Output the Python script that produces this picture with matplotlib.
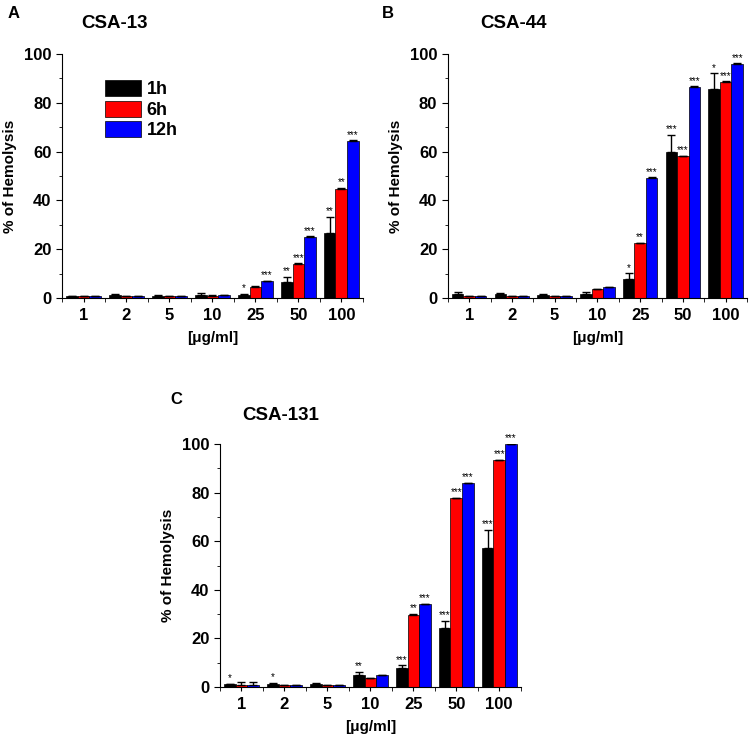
import numpy as np
import matplotlib
matplotlib.use("Agg")
import matplotlib.pyplot as plt
from matplotlib.ticker import MultipleLocator, FixedLocator

plt.rcParams['font.family'] = ['Liberation Sans', 'DejaVu Sans']
plt.rcParams['font.weight'] = 'bold'

doses = ["1", "2", "5", "10", "25", "50", "100"]
times = ["1h", "6h", "12h"]
colors = ["#000000", "#ff0000", "#0000ff"]

# CSA-13
a_1h = [0.8, 1.2, 0.8, 1.2, 1.4, 6.6, 26.8]
a_6h = [0.8, 0.8, 0.8, 0.9, 4.6, 14.1, 44.8]
a_12h = [0.8, 0.9, 0.9, 1.2, 6.9, 25.1, 64.5]
a_err_1h = [0.2, 0.6, 0.3, 0.8, 0.4, 2.0, 6.5]
a_err_6h = [0.1, 0.1, 0.1, 0.2, 0.2, 0.2, 0.3]
a_err_12h = [0.1, 0.1, 0.1, 0.2, 0.2, 0.2, 0.2]
a_stars_1h = ["", "", "", "", "*", "**", "**"]
a_stars_6h = ["", "", "", "", "", "***", "**"]
a_stars_12h = ["", "", "", "", "***", "***", "***"]

# CSA-44
b_1h = [1.5, 1.5, 1.3, 1.8, 7.9, 59.8, 85.8]
b_6h = [0.8, 0.8, 0.9, 3.6, 22.4, 58.0, 88.6]
b_12h = [0.9, 0.9, 0.9, 4.3, 49.2, 86.6, 96.0]
b_err_1h = [1.0, 0.5, 0.3, 0.6, 2.2, 7.0, 6.3]
b_err_6h = [0.1, 0.1, 0.1, 0.1, 0.2, 0.2, 0.2]
b_err_12h = [0.1, 0.1, 0.1, 0.1, 0.2, 0.2, 0.2]
b_stars_1h = ["", "", "", "", "*", "***", "*"]
b_stars_6h = ["", "", "", "", "**", "***", "***"]
b_stars_12h = ["", "", "", "", "***", "***", "***"]

# CSA-131
c_1h = [1.1, 1.3, 1.2, 5.1, 8.0, 24.3, 57.0]
c_6h = [0.8, 0.8, 0.9, 3.7, 29.8, 77.7, 93.4]
c_12h = [0.8, 0.9, 0.9, 4.8, 34.1, 83.8, 99.8]
c_err_1h = [0.3, 0.4, 0.3, 1.1, 0.9, 2.9, 7.8]
c_err_6h = [1.2, 0.1, 0.1, 0.1, 0.3, 0.2, 0.2]
c_err_12h = [1.3, 0.1, 0.1, 0.2, 0.2, 0.2, 0.2]
c_stars_1h = ["*", "*", "", "**", "***", "***", "***"]
c_stars_6h = ["", "", "", "", "**", "***", "***"]
c_stars_12h = ["", "", "", "", "***", "***", "***"]


def draw_panel(ax, series, errs, stars, legend=False):
    x = np.arange(len(doses))
    w = 0.27
    for i, (vals, err, st) in enumerate(zip(series, errs, stars)):
        pos = x + (i - 1) * w
        ax.bar(pos, vals, width=w, color=colors[i], edgecolor="black",
               linewidth=0.5, label=times[i], zorder=2)
        ax.errorbar(pos, vals, yerr=[np.zeros(len(err)), err], fmt="none",
                    ecolor="black", elinewidth=1, capsize=3, capthick=1, zorder=3)
        for p, v, e, s in zip(pos, vals, err, st):
            if s:
                ax.text(p, v + e + 0.2, s, ha="center", va="bottom",
                        fontsize=7, fontweight="normal")
    ax.set_xlim(-0.5, 6.5)
    ax.set_ylim(0, 100)
    ax.spines["top"].set_visible(False)
    ax.spines["right"].set_visible(False)
    ax.yaxis.set_major_locator(MultipleLocator(20))
    ax.yaxis.set_minor_locator(MultipleLocator(10))
    ax.xaxis.set_major_locator(FixedLocator(x))
    ax.xaxis.set_minor_locator(FixedLocator(np.arange(-0.5, 7.0, 1.0)))
    ax.set_xticklabels(doses)
    ax.tick_params(axis="x", which="major", length=3, labelsize=12, pad=4)
    ax.tick_params(axis="x", which="minor", length=3)
    ax.tick_params(axis="y", which="major", length=4, labelsize=12)
    ax.tick_params(axis="y", which="minor", length=2)
    for lab in ax.get_xticklabels() + ax.get_yticklabels():
        lab.set_fontweight("bold")
    ax.set_ylabel("% of Hemolysis", fontsize=11, fontweight="bold")
    ax.yaxis.set_label_coords(-0.15, 0.5)
    ax.set_xlabel("[μg/ml]", fontsize=11, fontweight="bold", labelpad=6)
    if legend:
        ax.legend(loc="upper left", bbox_to_anchor=(0.113, 0.93), frameon=False,
                  handlelength=2.0, handleheight=1.0,
                  labelspacing=0.12, handletextpad=0.3, borderpad=0,
                  prop={"weight": "bold", "size": 13})


fig = plt.figure(figsize=(7.5, 7.37), dpi=100)
ax_a = fig.add_axes([0.0827, 0.5957, 0.401, 0.331])
ax_b = fig.add_axes([0.597, 0.5957, 0.399, 0.331])
ax_c = fig.add_axes([0.2933, 0.0678, 0.401, 0.3298])

draw_panel(ax_a, [a_1h, a_6h, a_12h], [a_err_1h, a_err_6h, a_err_12h],
           [a_stars_1h, a_stars_6h, a_stars_12h], legend=True)
draw_panel(ax_b, [b_1h, b_6h, b_12h], [b_err_1h, b_err_6h, b_err_12h],
           [b_stars_1h, b_stars_6h, b_stars_12h])
draw_panel(ax_c, [c_1h, c_6h, c_12h], [c_err_1h, c_err_6h, c_err_12h],
           [c_stars_1h, c_stars_6h, c_stars_12h])

fig.text(8 / 750, 1 - 13 / 737, "A", fontsize=12, fontweight="bold", va="center")
fig.text(81 / 750, 1 - 24 / 737, "CSA-13", fontsize=13.5, fontweight="bold", va="center")
fig.text(382 / 750, 1 - 13 / 737, "B", fontsize=12, fontweight="bold", va="center")
fig.text(480 / 750, 1 - 24 / 737, "CSA-44", fontsize=13.5, fontweight="bold", va="center")
fig.text(170 / 750, 1 - 399 / 737, "C", fontsize=12, fontweight="bold", va="center")
fig.text(242 / 750, 1 - 415 / 737, "CSA-131", fontsize=13.5, fontweight="bold", va="center")

fig.savefig("out.png", dpi=100)
